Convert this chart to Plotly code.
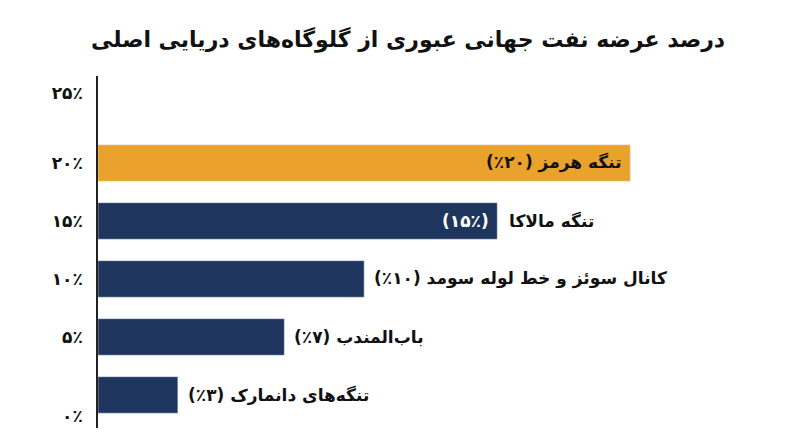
import plotly.graph_objects as go

labels = ["تنگه هرمز", "تنگه مالاکا", "کانال سوئز و خط لوله سومد", "باب‌المندب", "تنگه‌های دانمارک"]
values = [20, 15, 10, 7, 3]
value_text = ["(۲۰٪)", "(۱۵٪)", "(۱۰٪)", "(۷٪)", "(۳٪)"]
colors = ["#E9A22B", "#1E355E", "#1E355E", "#1E355E", "#1E355E"]
tick_text = ["۰٪", "۵٪", "۱۰٪", "۱۵٪", "۲۰٪", "۲۵٪"]
tick_pos = [-0.36, 1, 2, 3, 4, 5.2]
ypos = [4, 3, 2, 1, 0]

font = "DejaVu Sans"
fig = go.Figure(go.Bar(x=values, y=ypos, orientation="h", marker_color=colors,
                       width=0.63, hoverinfo="skip"))

for i, (lab, v, vt) in enumerate(zip(labels, values, value_text)):
    if i == 0:
        fig.add_annotation(x=v, y=ypos[i], text="<b>" + lab + " " + vt + "</b>", showarrow=False,
                           xanchor="right", xshift=-6, font=dict(size=17, color="#111", family=font))
    elif i == 1:
        fig.add_annotation(x=v, y=ypos[i], text="<b>" + vt + "</b>", showarrow=False,
                           xanchor="right", xshift=-6, font=dict(size=17, color="white", family=font))
        fig.add_annotation(x=v, y=ypos[i], text="<b>" + lab + "</b>", showarrow=False,
                           xanchor="left", xshift=10, font=dict(size=17, color="#111", family=font))
    else:
        fig.add_annotation(x=v, y=ypos[i], text="<b>" + lab + " " + vt + "</b>", showarrow=False,
                           xanchor="left", xshift=8, font=dict(size=17, color="#111", family=font))

fig.update_layout(
    width=800, height=447, plot_bgcolor="white", paper_bgcolor="white",
    margin=dict(l=90, r=10, t=68, b=27), showlegend=False,
    title=dict(text="<b>درصد عرضه نفت جهانی عبوری از گلوگاه‌های دریایی اصلی</b>",
               x=0.5, xanchor="center", y=0.93, yanchor="middle",
               font=dict(size=22, color="#111", family=font)),
    xaxis=dict(range=[0, 26.3], visible=False),
    yaxis=dict(range=[-0.57, 5.5], tickvals=tick_pos, ticktext=["<b>" + t + "</b>" for t in tick_text],
               showgrid=False, zeroline=False, showline=True, linecolor="#222", linewidth=1.5,
               ticks="", ticklabelstandoff=10,
               tickfont=dict(size=17, color="#111", family=font)),
)

fig.write_html("out.html")
